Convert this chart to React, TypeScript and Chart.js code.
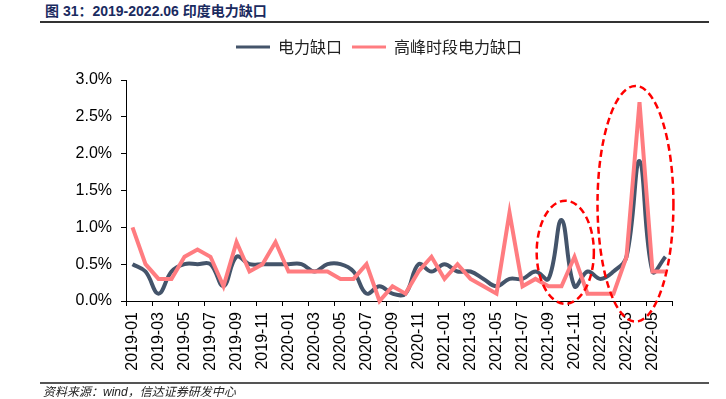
import React, { useEffect, useRef } from 'react';
import { Chart, registerables } from 'chart.js';

Chart.register(...registerables);

const months = [
  '2019-01', '2019-02', '2019-03', '2019-04', '2019-05', '2019-06', '2019-07', '2019-08', '2019-09', '2019-10', '2019-11', '2019-12',
  '2020-01', '2020-02', '2020-03', '2020-04', '2020-05', '2020-06', '2020-07', '2020-08', '2020-09', '2020-10', '2020-11', '2020-12',
  '2021-01', '2021-02', '2021-03', '2021-04', '2021-05', '2021-06', '2021-07', '2021-08', '2021-09', '2021-10', '2021-11', '2021-12',
  '2022-01', '2022-02', '2022-03', '2022-04', '2022-05', '2022-06',
];

// 电力缺口 (%)
const powerGap = [
  0.5, 0.4, 0.1, 0.4, 0.5, 0.5, 0.5, 0.2, 0.6, 0.5, 0.5, 0.5,
  0.5, 0.5, 0.4, 0.5, 0.5, 0.4, 0.1, 0.2, 0.1, 0.1, 0.5, 0.4,
  0.5, 0.4, 0.4, 0.3, 0.2, 0.3, 0.3, 0.4, 0.3, 1.1, 0.2, 0.4,
  0.3, 0.4, 0.6, 1.9, 0.4, 0.6,
];

// 高峰时段电力缺口 (%)
const peakGap = [
  1.0, 0.5, 0.3, 0.3, 0.6, 0.7, 0.6, 0.2, 0.8, 0.4, 0.5, 0.8,
  0.4, 0.4, 0.4, 0.4, 0.3, 0.3, 0.5, 0.0, 0.2, 0.1, 0.4, 0.6,
  0.3, 0.5, 0.3, 0.2, 0.1, 1.2, 0.2, 0.3, 0.2, 0.2, 0.6, 0.1,
  0.1, 0.1, 0.6, 2.7, 0.4, 0.4,
];

const seriesNames = ['电力缺口', '高峰时段电力缺口'];
const yMin = 0;
const yMax = 3;
const yStep = 0.5;

// highlight ellipses (center index / value, radii in index / value units)
const highlightCx = [33.29, 38.69];
const highlightCy = [0.662, 1.32];
const highlightRx = [2.2, 2.92];
const highlightRy = [0.70, 1.60];

const DARK = '#44546A';
const PINK = '#FF7C80';
const TICK_FONT = '"Liberation Sans", Arial, sans-serif';
const CJK_FONT = '"Noto Sans CJK SC", "Noto Sans", sans-serif';
const LEGEND_GAP = 15;
const LEGEND_SHIFT = 43;

const ellipsePlugin = {
  id: 'highlightEllipses',
  afterDatasetsDraw(chart: any) {
    const { ctx } = chart;
    const x = chart.scales.x;
    const y = chart.scales.y;
    ctx.save();
    ctx.strokeStyle = '#FF0000';
    ctx.lineWidth = 2.5;
    ctx.setLineDash([7, 4]);
    for (let i = 0; i < highlightCx.length; i++) {
      const cx = x.getPixelForValue(highlightCx[i]);
      const cy = y.getPixelForValue(highlightCy[i]);
      const rx = Math.abs(x.getPixelForValue(highlightCx[i] + highlightRx[i]) - cx);
      const ry = Math.abs(y.getPixelForValue(highlightCy[i] + highlightRy[i]) - cy);
      ctx.beginPath();
      ctx.ellipse(cx, cy, rx, ry, 0, 0, Math.PI * 2);
      ctx.stroke();
    }
    ctx.restore();
  },
};

const legendSpacer = {
  id: 'legendSpacer',
  beforeInit(chart: any) {
    const lg = chart.legend;
    if (!lg) return;
    const orig = lg.fit;
    lg.fit = function () {
      orig.call(this);
      this.height += LEGEND_GAP;
    };
  },
  afterLayout(chart: any) {
    const lg = chart.legend;
    if (!lg) return;
    lg.left += LEGEND_SHIFT;
    lg.right += LEGEND_SHIFT;
  },
};

export default function App() {
  const ref = useRef<HTMLCanvasElement | null>(null);

  useEffect(() => {
    if (!ref.current) return;
    const chart = new Chart(ref.current, {
      type: 'line',
      data: {
        labels: months,
        datasets: [
          {
            label: seriesNames[0],
            data: powerGap,
            borderColor: DARK,
            backgroundColor: DARK,
            borderWidth: 4,
            pointRadius: 0,
            tension: 0.4,
            order: 1,
            clip: false as any,
          },
          {
            label: seriesNames[1],
            data: peakGap,
            borderColor: PINK,
            backgroundColor: PINK,
            borderWidth: 4,
            pointRadius: 0,
            tension: 0,
            order: 0,
            clip: false as any,
          },
        ],
      },
      options: {
        responsive: false,
        animation: false,
        devicePixelRatio: 1,
        events: [],
        layout: { padding: { top: 29, left: 0, right: 54, bottom: 18 } },
        plugins: {
          tooltip: { enabled: false },
          legend: {
            display: true,
            position: 'top',
            labels: {
              boxWidth: 34,
              boxHeight: 3,
              padding: 10,
              color: '#222',
              font: { family: CJK_FONT, size: 16 },
              sort: (a: any, b: any) => a.datasetIndex - b.datasetIndex,
              generateLabels: (c: any) =>
                (Chart.defaults.plugins.legend.labels as any)
                  .generateLabels(c)
                  .map((l: any) => ({ ...l, lineWidth: 0 })),
            },
          },
        },
        scales: {
          x: {
            type: 'category',
            offset: true,
            afterFit: (s: any) => {
              s.height = 80;
            },
            grid: {
              display: true,
              drawOnChartArea: false,
              drawTicks: true,
              tickLength: 5,
              offset: true,
              lineWidth: 1,
              color: (c: any) =>
                c.index === undefined || c.index % 2 === 0 ? '#000' : 'rgba(0,0,0,0)',
            },
            border: { display: true, color: '#000', width: 1 },
            ticks: {
              autoSkip: false,
              minRotation: 90,
              maxRotation: 90,
              padding: 6,
              color: '#000',
              font: { family: TICK_FONT, size: 16 },
              callback: (_v: any, i: number) => (i % 2 === 0 ? months[i] : ''),
            },
          },
          y: {
            min: yMin,
            max: yMax,
            afterFit: (s: any) => {
              s.width = 126;
            },
            grid: {
              display: true,
              drawOnChartArea: false,
              drawTicks: true,
              tickLength: 5,
              color: '#000',
            },
            border: { display: true, color: '#000', width: 1 },
            ticks: {
              stepSize: yStep,
              padding: 9,
              color: '#000',
              font: { family: TICK_FONT, size: 16 },
              callback: (v: any) => Number(v).toFixed(1) + '%',
            },
          },
        },
      },
      plugins: [legendSpacer, ellipsePlugin],
    });
    return () => chart.destroy();
  }, []);

  return (
    <div
      style={{
        position: 'fixed',
        left: 0,
        top: 0,
        width: 726,
        height: 399,
        background: '#fff',
        overflow: 'hidden',
      }}
    >
      <div
        style={{
          position: 'absolute',
          left: 45,
          top: 2,
          fontFamily: '"Liberation Sans", "Noto Sans CJK SC", sans-serif',
          fontWeight: 'bold',
          fontSize: 14,
          color: '#1a2b5f',
          whiteSpace: 'nowrap',
          lineHeight: '18px',
        }}
      >
        图 31：2019-2022.06 印度电力缺口
      </div>
      <div
        style={{ position: 'absolute', left: 40, top: 21, width: 669, height: 2, background: '#333' }}
      />
      <canvas
        ref={ref}
        width={726}
        height={399}
        style={{ position: 'absolute', left: 0, top: 0, width: 726, height: 399 }}
      />
      <div
        style={{ position: 'absolute', left: 40, top: 382, width: 669, height: 2, background: '#555' }}
      />
      <div
        style={{
          position: 'absolute',
          left: 43,
          top: 385,
          fontFamily: '"Liberation Sans", "Noto Sans CJK SC", sans-serif',
          fontStyle: 'italic',
          fontSize: 12,
          lineHeight: '14px',
          color: '#222',
          whiteSpace: 'nowrap',
        }}
      >
        资料来源：wind，信达证券研发中心
      </div>
    </div>
  );
}
